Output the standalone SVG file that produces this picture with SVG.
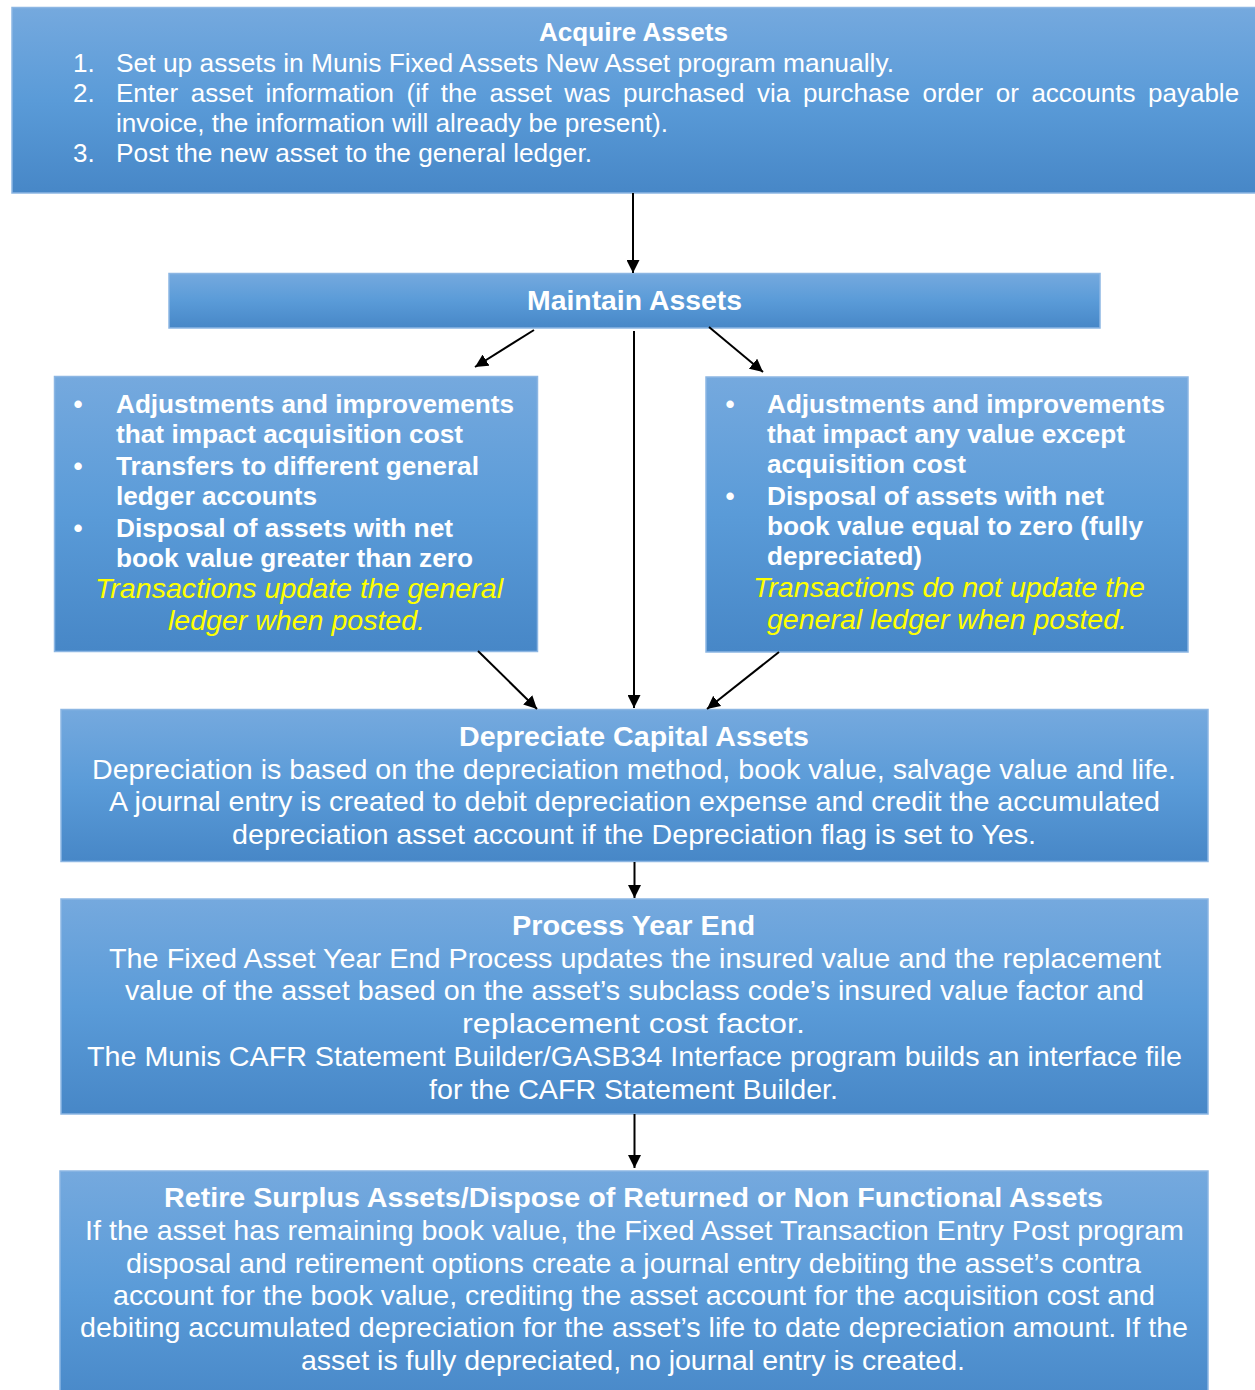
<svg xmlns="http://www.w3.org/2000/svg" width="1255" height="1390" viewBox="0 0 1255 1390">
<defs>
<linearGradient id="g" x1="0" y1="0" x2="0" y2="1">
<stop offset="0" stop-color="#75a9de"/>
<stop offset="0.5" stop-color="#5a9bd8"/>
<stop offset="1" stop-color="#4787c7"/>
</linearGradient>
<marker id="ah" markerUnits="userSpaceOnUse" markerWidth="14" markerHeight="13" refX="13" refY="6.5" orient="auto">
<path d="M0,0 L13,6.5 L0,13 z" fill="#000"/>
</marker>
<style>
.box{fill:url(#g);stroke:#8cb6e3;stroke-width:1.5}
text{font-family:"Liberation Sans",Arial,sans-serif;fill:#fff}
.s26{font-size:26px}
.s28{font-size:28px}
.b{font-weight:bold}
.y{fill:#ffff00;font-style:italic;font-size:28px}
.conn line{stroke:#000;stroke-width:2;marker-end:url(#ah)}
</style>
</defs>
<rect width="1255" height="1390" fill="#fff"/>

<g id="acquire">
<rect class="box" x="12" y="7.5" width="1260" height="185.5"/>
<text class="s26 b" x="539" y="41" textLength="189" lengthAdjust="spacingAndGlyphs">Acquire Assets</text>
<text class="s26" x="73" y="72">1.</text>
<text class="s26" x="116" y="72" textLength="778" lengthAdjust="spacingAndGlyphs">Set up assets in Munis Fixed Assets New Asset program manually.</text>
<text class="s26" x="73" y="102">2.</text>
<text class="s26" x="116" y="102" style="word-spacing:5.35px">Enter asset information (if the asset was purchased via purchase order or accounts payable</text>
<text class="s26" x="116" y="132" textLength="552" lengthAdjust="spacingAndGlyphs">invoice, the information will already be present).</text>
<text class="s26" x="73" y="162">3.</text>
<text class="s26" x="116" y="162" textLength="476" lengthAdjust="spacingAndGlyphs">Post the new asset to the general ledger.</text>
</g>

<g id="maintain">
<rect class="box" x="169" y="273.5" width="931" height="54.5"/>
<text class="s28 b" x="527" y="310" textLength="215" lengthAdjust="spacingAndGlyphs">Maintain Assets</text>
</g>

<g id="left">
<rect class="box" x="54.5" y="376.5" width="483" height="275"/>
<text class="s26 b" x="73.5" y="413">•</text>
<text class="s26 b" x="116" y="413" textLength="398" lengthAdjust="spacingAndGlyphs">Adjustments and improvements</text>
<text class="s26 b" x="116" y="443" textLength="347" lengthAdjust="spacingAndGlyphs">that impact acquisition cost</text>
<text class="s26 b" x="73.5" y="475">•</text>
<text class="s26 b" x="116" y="475" textLength="363" lengthAdjust="spacingAndGlyphs">Transfers to different general</text>
<text class="s26 b" x="116" y="505" textLength="201" lengthAdjust="spacingAndGlyphs">ledger accounts</text>
<text class="s26 b" x="73.5" y="537">•</text>
<text class="s26 b" x="116" y="537" textLength="337" lengthAdjust="spacingAndGlyphs">Disposal of assets with net</text>
<text class="s26 b" x="116" y="567" textLength="357" lengthAdjust="spacingAndGlyphs">book value greater than zero</text>
<text class="y" x="95" y="598" textLength="408" lengthAdjust="spacingAndGlyphs">Transactions update the general</text>
<text class="y" x="168" y="630" textLength="257" lengthAdjust="spacingAndGlyphs">ledger when posted.</text>
</g>

<g id="right">
<rect class="box" x="706" y="377" width="482" height="275"/>
<text class="s26 b" x="725.5" y="413">•</text>
<text class="s26 b" x="767" y="413" textLength="398" lengthAdjust="spacingAndGlyphs">Adjustments and improvements</text>
<text class="s26 b" x="767" y="443" textLength="358" lengthAdjust="spacingAndGlyphs">that impact any value except</text>
<text class="s26 b" x="767" y="473" textLength="199" lengthAdjust="spacingAndGlyphs">acquisition cost</text>
<text class="s26 b" x="725.5" y="505">•</text>
<text class="s26 b" x="767" y="505" textLength="337" lengthAdjust="spacingAndGlyphs">Disposal of assets with net</text>
<text class="s26 b" x="767" y="535" textLength="376" lengthAdjust="spacingAndGlyphs">book value equal to zero (fully</text>
<text class="s26 b" x="767" y="565" textLength="155" lengthAdjust="spacingAndGlyphs">depreciated)</text>
<text class="y" x="753" y="597" textLength="392" lengthAdjust="spacingAndGlyphs">Transactions do not update the</text>
<text class="y" x="767" y="629" textLength="360" lengthAdjust="spacingAndGlyphs">general ledger when posted.</text>
</g>

<g id="depreciate">
<rect class="box" x="61" y="709.5" width="1147" height="152"/>
<text class="s28 b" x="459" y="746" textLength="350" lengthAdjust="spacingAndGlyphs">Depreciate Capital Assets</text>
<text class="s28" x="92" y="779" textLength="1084" lengthAdjust="spacingAndGlyphs">Depreciation is based on the depreciation method, book value, salvage value and life.</text>
<text class="s28" x="109" y="811" textLength="1051" lengthAdjust="spacingAndGlyphs">A journal entry is created to debit depreciation expense and credit the accumulated</text>
<text class="s28" x="232" y="844" textLength="804" lengthAdjust="spacingAndGlyphs">depreciation asset account if the Depreciation flag is set to Yes.</text>
</g>

<g id="yearend">
<rect class="box" x="61" y="899" width="1147" height="215"/>
<text class="s28 b" x="512" y="935" textLength="243" lengthAdjust="spacingAndGlyphs">Process Year End</text>
<text class="s28" x="109" y="968" textLength="1052" lengthAdjust="spacingAndGlyphs">The Fixed Asset Year End Process updates the insured value and the replacement</text>
<text class="s28" x="125" y="1000" textLength="1019" lengthAdjust="spacingAndGlyphs">value of the asset based on the asset’s subclass code’s insured value factor and</text>
<text class="s28" x="462" y="1033" textLength="343" lengthAdjust="spacingAndGlyphs">replacement cost factor.</text>
<text class="s28" x="87" y="1066" textLength="1095" lengthAdjust="spacingAndGlyphs">The Munis CAFR Statement Builder/GASB34 Interface program builds an interface file</text>
<text class="s28" x="429" y="1099" textLength="409" lengthAdjust="spacingAndGlyphs">for the CAFR Statement Builder.</text>
</g>

<g id="retire">
<rect class="box" x="60" y="1171" width="1148" height="240"/>
<text class="s28 b" x="164" y="1207" textLength="939" lengthAdjust="spacingAndGlyphs">Retire Surplus Assets/Dispose of Returned or Non Functional Assets</text>
<text class="s28" x="85" y="1240" textLength="1099" lengthAdjust="spacingAndGlyphs">If the asset has remaining book value, the Fixed Asset Transaction Entry Post program</text>
<text class="s28" x="126" y="1273" textLength="1015" lengthAdjust="spacingAndGlyphs">disposal and retirement options create a journal entry debiting the asset’s contra</text>
<text class="s28" x="113" y="1305" textLength="1042" lengthAdjust="spacingAndGlyphs">account for the book value, crediting the asset account for the acquisition cost and</text>
<text class="s28" x="80" y="1337" textLength="1108" lengthAdjust="spacingAndGlyphs">debiting accumulated depreciation for the asset’s life to date depreciation amount. If the</text>
<text class="s28" x="301" y="1370" textLength="664" lengthAdjust="spacingAndGlyphs">asset is fully depreciated, no journal entry is created.</text>
</g>

<g id="connectors" class="conn">
<line x1="633" y1="193" x2="633" y2="273"/>
<line x1="534" y1="330" x2="475" y2="367"/>
<line x1="634" y1="331" x2="634" y2="708"/>
<line x1="709" y1="327" x2="763" y2="372"/>
<line x1="478" y1="651" x2="537" y2="709"/>
<line x1="779" y1="652" x2="707" y2="709"/>
<line x1="634.5" y1="862" x2="634.5" y2="898"/>
<line x1="634.5" y1="1114" x2="634.5" y2="1168"/>
</g>
</svg>
